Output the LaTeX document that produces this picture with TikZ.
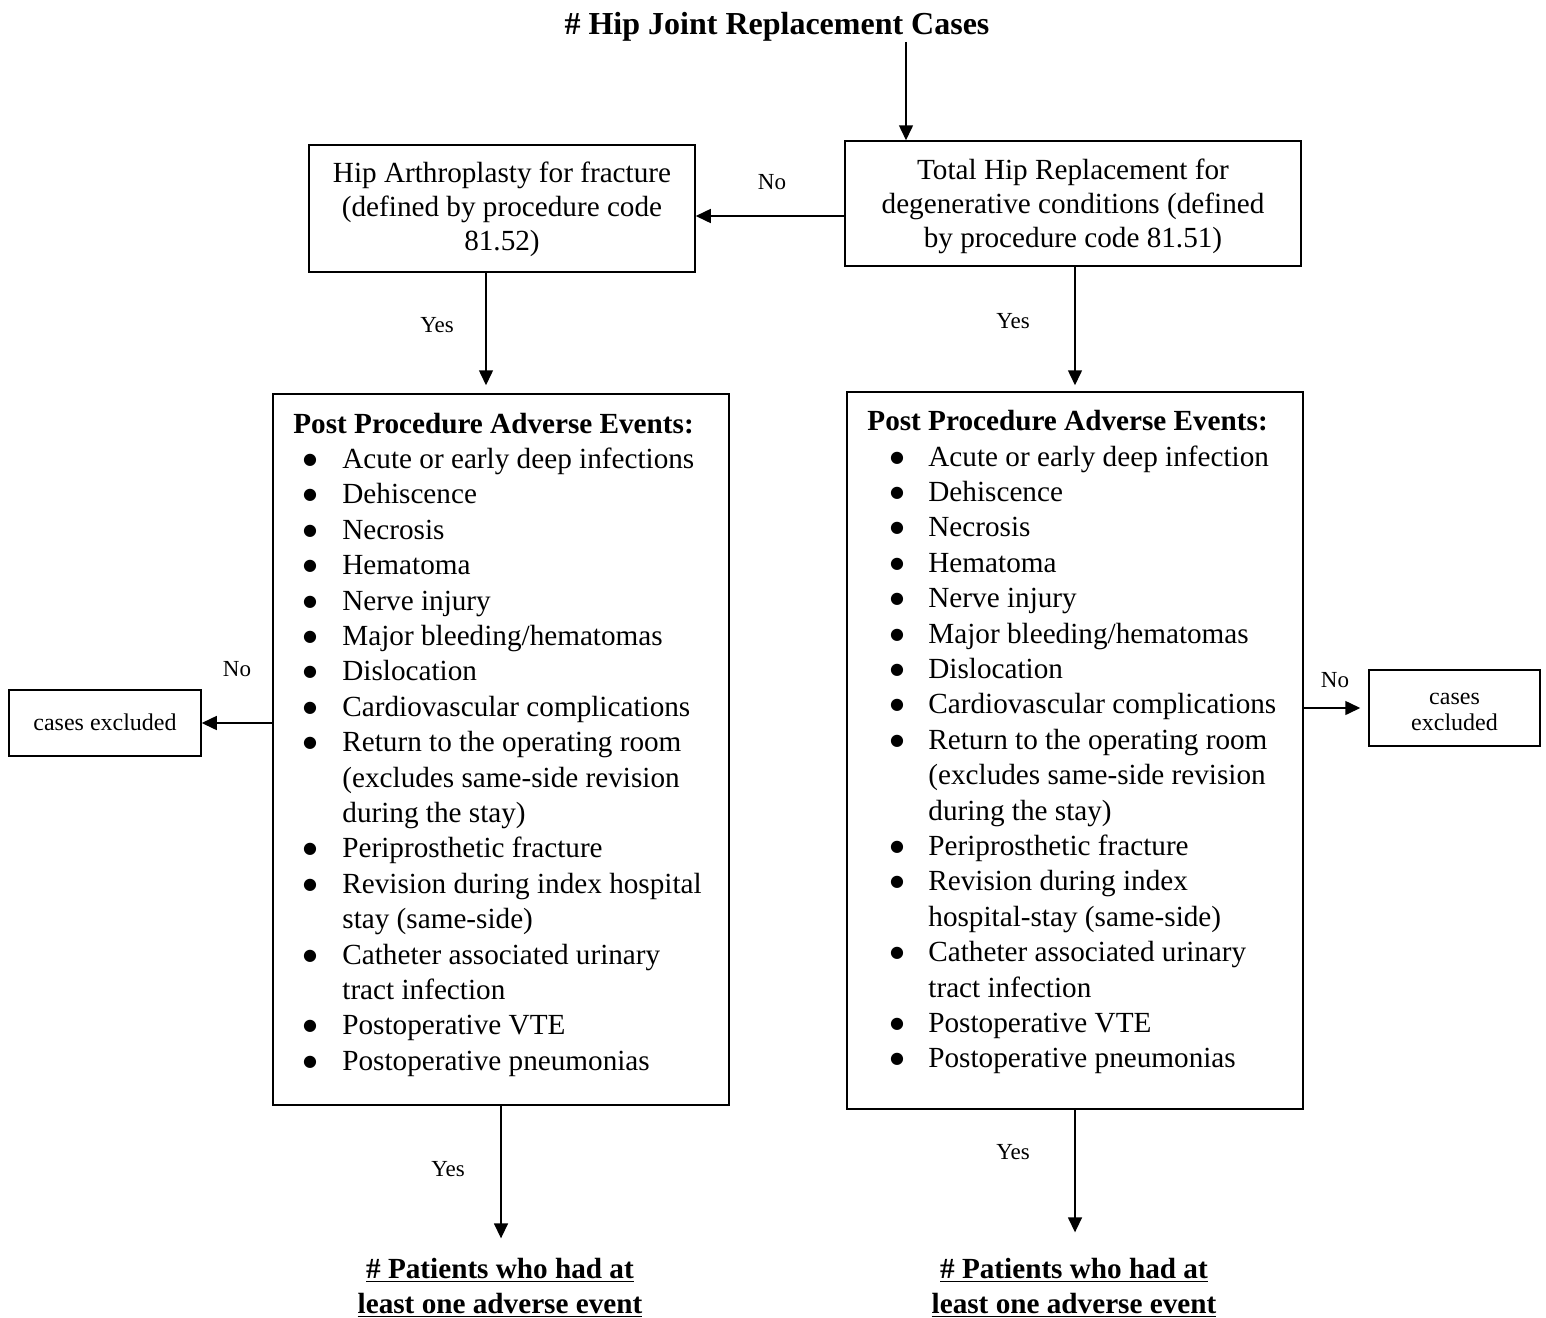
\documentclass[tikz,border=0pt]{standalone}
\usepackage{fontspec}
\setmainfont{Liberation Serif}
\newfontfamily\bulletfont{DejaVu Sans}
\usetikzlibrary{arrows.meta}
\newcommand{\bigbul}{\raisebox{2pt}{\bulletfont\fontsize{8}{8}\selectfont ●}}
\newcommand{\bulL}{\makebox[24.5pt][l]{\hspace{4.9pt}\bigbul}}
\newcommand{\contL}{\hspace*{24.5pt}}
\newcommand{\bulR}{\makebox[30.5pt][l]{\hspace{11.4pt}\bigbul}}
\newcommand{\contR}{\hspace*{30.5pt}}
\begin{document}
\begin{tikzpicture}[x=0.5pt,y=-0.5pt,
  box/.style={draw,line width=0.75pt,inner sep=0pt,align=center},
  txt/.style={inner sep=0pt,align=center},
  arr/.style={line width=0.75pt,-{Triangle[length=7.5pt,width=7pt]}},
  lab/.style={font=\fontsize{11.5}{13}\selectfont,inner sep=0pt},
  body/.style={font=\fontsize{14.6}{17}\selectfont},
  listtext/.style={anchor=north west,inner sep=0pt,font=\fontsize{14.6}{17.7}\selectfont},
  small/.style={font=\fontsize{12}{13}\selectfont},
  result/.style={inner sep=0pt,align=center,font=\fontsize{14.6}{17.5}\selectfont\bfseries}]
\useasboundingbox (0,0) rectangle (1546,1317);

\node[inner sep=0pt,font=\fontsize{16}{19}\selectfont\bfseries] (T) at (777,27) {\# Hip Joint Replacement Cases};

\node[box,minimum width=228pt,minimum height=62.5pt] (THR) at (1073,203.5) {};
\node[txt,body] (THRt) at (1073,206) {Total Hip Replacement for\\degenerative conditions (defined\\by procedure code 81.51)};
\node[box,minimum width=193pt,minimum height=63.5pt] (HA) at (502,208.5) {};
\node[txt,body] (HAt) at (502,209.5) {Hip Arthroplasty for fracture\\(defined by procedure code\\81.52)};

\node[box,minimum width=228pt,minimum height=355.5pt] (BL) at (501,749.5) {};
\node[box,minimum width=228pt,minimum height=358.5pt] (BR) at (1075,750.5) {};

\node[listtext] (LL) at (293,408) {\begin{tabular}{@{}l@{}}
\textbf{Post Procedure Adverse Events:}\\
\bulL Acute or early deep infections\\
\bulL Dehiscence\\
\bulL Necrosis\\
\bulL Hematoma\\
\bulL Nerve injury\\
\bulL Major bleeding/hematomas\\
\bulL Dislocation\\
\bulL Cardiovascular complications\\
\bulL Return to the operating room\\
\contL (excludes same-side revision\\
\contL during the stay)\\
\bulL Periprosthetic fracture\\
\bulL Revision during index hospital\\
\contL stay (same-side)\\
\bulL Catheter associated urinary\\
\contL tract infection\\
\bulL Postoperative VTE\\
\bulL Postoperative pneumonias
\end{tabular}};

\node[listtext] (LR) at (867,405.5) {\begin{tabular}{@{}l@{}}
\textbf{Post Procedure Adverse Events:}\\
\bulR Acute or early deep infection\\
\bulR Dehiscence\\
\bulR Necrosis\\
\bulR Hematoma\\
\bulR Nerve injury\\
\bulR Major bleeding/hematomas\\
\bulR Dislocation\\
\bulR Cardiovascular complications\\
\bulR Return to the operating room\\
\contR (excludes same-side revision\\
\contR during the stay)\\
\bulR Periprosthetic fracture\\
\bulR Revision during index\\
\contR hospital-stay (same-side)\\
\bulR Catheter associated urinary\\
\contR tract infection\\
\bulR Postoperative VTE\\
\bulR Postoperative pneumonias
\end{tabular}};

\node[box,small,minimum width=96pt,minimum height=33pt] (CL) at (105,723) {};
\node[txt,small] (CLt) at (105,722) {cases excluded};
\node[box,small,minimum width=85.5pt,minimum height=38pt] (CR) at (1454.5,708) {};
\node[txt,small] (CRt) at (1454.5,712) {cases\\excluded};

\node[result] (PL) at (500,1287.5) {\underline{\# Patients who had at}\\\underline{least one adverse event}};
\node[result] (PR) at (1074,1287.5) {\underline{\# Patients who had at}\\\underline{least one adverse event}};

\coordinate (x906) at (906,0);
\coordinate (y216) at (0,216);
\coordinate (x486) at (486,0);
\coordinate (x1075) at (1075,0);

\draw[arr] (T.south -| x906) -- (THR.north -| x906);
\draw[arr] (THR.west |- y216) -- (HA.east |- y216);
\draw[arr,shorten >=4pt] (HA.south -| x486) -- (BL.north -| x486);
\draw[arr,shorten >=3pt] (THR.south -| x1075) -- (BR.north);
\draw[arr] (BL.west |- CL.east) -- (CL.east);
\draw[arr,shorten >=4pt] (BR.east |- CR.west) -- (CR.west);
\draw[arr,shorten >=9.5pt] (BL.south) -- (PL.north -| BL.south);
\draw[arr,shorten >=12.5pt] (BR.south) -- (PR.north -| BR.south);

\node[lab] (n1) at (772,182) {No};
\node[lab] (y1) at (437,325) {Yes};
\node[lab] (y2) at (1013,321) {Yes};
\node[lab] (n2) at (237,669) {No};
\node[lab] (n3) at (1335,680) {No};
\node[lab] (y3) at (448,1169) {Yes};
\node[lab] (y4) at (1013,1152) {Yes};
\end{tikzpicture}
\end{document}
